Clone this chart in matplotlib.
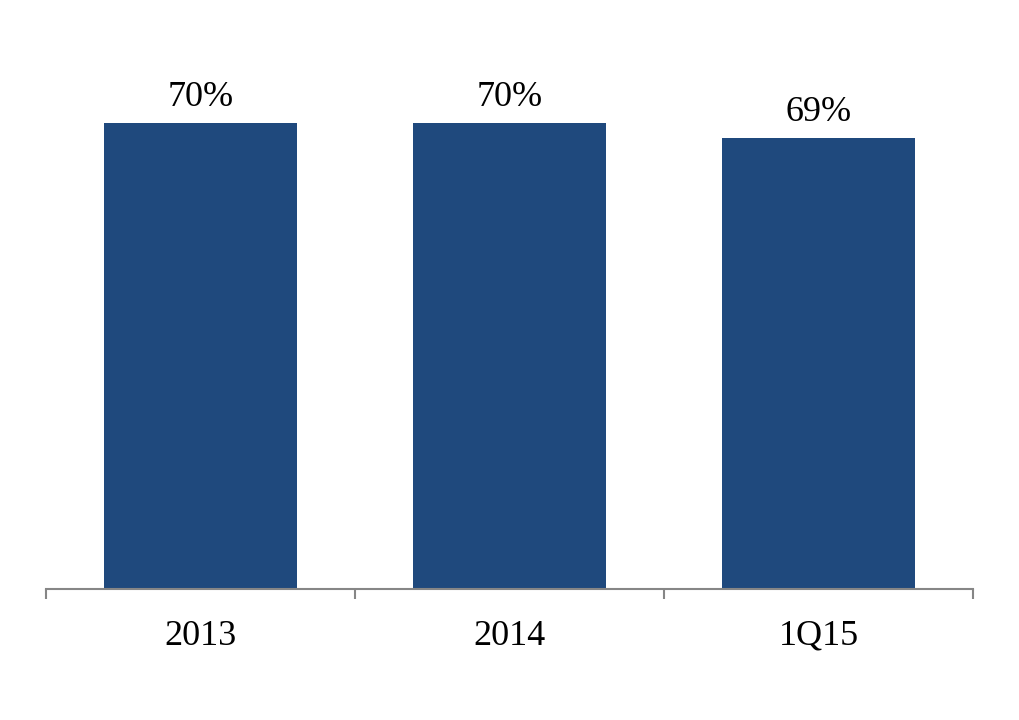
import matplotlib
matplotlib.use("Agg")
import matplotlib.pyplot as plt

categories = ["2013", "2014", "1Q15"]
values = [70, 70, 69]
labels = ["70%", "70%", "69%"]

plt.rcParams['font.family'] = ['Liberation Serif', 'DejaVu Serif']

fig = plt.figure(figsize=(10.2, 7.2), dpi=100)
ax = fig.add_axes([46/1020, (720-589)/720, (973-46)/1020, 589/720])

x = list(range(len(categories)))
bars = ax.bar(x, values, width=0.625, color="#1F497D", zorder=2)
ax.bar_label(bars, labels=labels, padding=7, fontsize=26)

ax.set_xlim(-0.5, len(categories) - 0.5)
ax.set_ylim(39.07, 78.2)
ax.set_yticks([])
ax.set_xticks([-0.5, 0.5, 1.5, 2.5])
ax.set_xticklabels([])
ax.set_xticks(x, minor=True)
ax.set_xticklabels(categories, minor=True, fontsize=26)
ax.tick_params(axis='x', which='major', length=7, width=1.5, color="#868686", direction='out')
ax.tick_params(axis='x', which='minor', length=0, pad=22)

for s in ["top", "left", "right"]:
    ax.spines[s].set_visible(False)
ax.spines["bottom"].set_color("#868686")
ax.spines["bottom"].set_linewidth(1.5)
ax.patch.set_visible(False)

fig.savefig("out.png", dpi=100)
